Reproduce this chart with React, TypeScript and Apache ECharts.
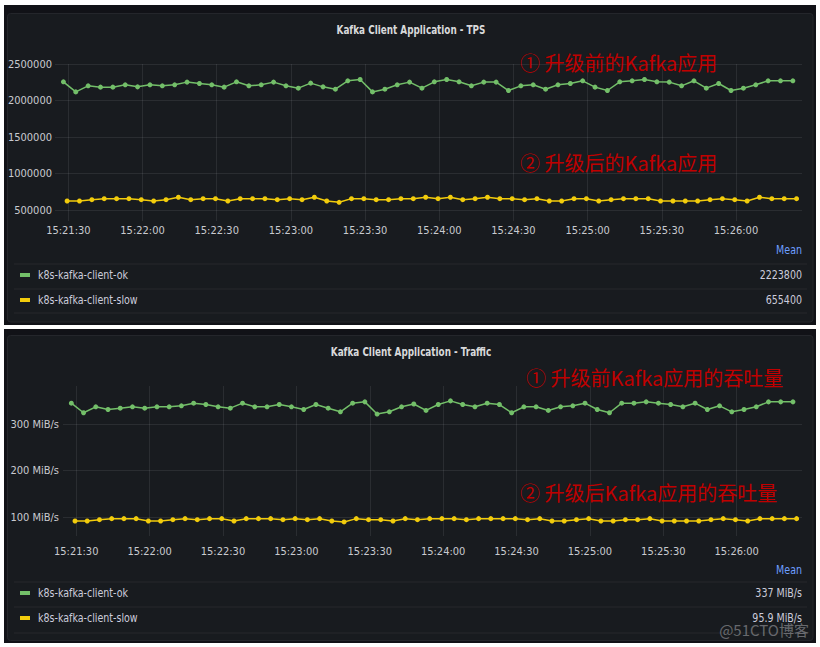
import React, { useEffect, useRef } from "react";
import * as echarts from "echarts";

// ---- data ----
const panelTitles = ["Kafka Client Application - TPS", "Kafka Client Application - Traffic"];
const seriesNames = ["k8s-kafka-client-ok", "k8s-kafka-client-slow"];
const tpsMeans = ["2223800", "655400"];
const trafficMeans = ["337 MiB/s", "95.9 MiB/s"];
const tpsNotes = ["① 升级前的Kafka应用", "② 升级后的Kafka应用"];
const trafficNotes = ["① 升级前Kafka应用的吞吐量", "② 升级后Kafka应用的吞吐量"];
const watermark = "@51CTO博客";

// sample times: seconds of day; ok series starts 15:21:28, slow series 15:21:29.5, every 5 s
const okStartSec = 55288;
const slowStartSec = 55289.5;
const stepSec = 5;
const xMinSec = 55284.6;
const xMaxSec = 55586.7;

const okTps = [
  2256000, 2118000, 2201000, 2183000, 2183000, 2215000, 2187000, 2215000, 2201000, 2215000,
  2252000, 2233000, 2215000, 2183000, 2256000, 2201000, 2215000, 2252000, 2201000, 2169000,
  2238000, 2187000, 2155000, 2270000, 2288000, 2118000, 2155000, 2215000, 2252000, 2169000,
  2256000, 2288000, 2256000, 2201000, 2252000, 2252000, 2137000, 2201000, 2215000, 2155000,
  2215000, 2233000, 2270000, 2183000, 2137000, 2256000, 2270000, 2288000, 2256000, 2252000,
  2201000, 2270000, 2169000, 2233000, 2137000, 2169000, 2215000, 2270000, 2270000, 2270000,
];
const slowTps = [
  624000, 624000, 642000, 656000, 656000, 656000, 642000, 624000, 642000, 675000,
  642000, 656000, 656000, 624000, 656000, 656000, 656000, 642000, 656000, 642000,
  675000, 624000, 606000, 656000, 656000, 642000, 642000, 656000, 656000, 675000,
  656000, 675000, 642000, 656000, 675000, 656000, 656000, 642000, 656000, 624000,
  624000, 656000, 656000, 624000, 642000, 656000, 656000, 656000, 624000, 624000,
  624000, 624000, 642000, 656000, 642000, 624000, 675000, 656000, 656000, 656000,
];
const okTraffic = [
  344.7, 324.1, 336.9, 331.2, 334.0, 336.9, 334.0, 336.9, 336.9, 339.0,
  344.7, 341.8, 336.9, 334.0, 344.7, 336.9, 336.9, 341.8, 336.9, 331.2,
  341.8, 334.0, 326.2, 344.7, 347.5, 321.3, 326.2, 336.9, 343.0, 329.1,
  341.8, 349.6, 341.8, 336.9, 344.7, 341.8, 324.1, 336.9, 336.9, 329.1,
  336.9, 339.0, 344.7, 331.2, 324.1, 344.7, 344.7, 347.5, 344.7, 341.8,
  336.9, 344.7, 331.2, 339.0, 326.2, 331.2, 336.9, 347.5, 347.5, 347.5,
];
const slowTraffic = [
  92.2, 92.2, 95.0, 97.2, 97.2, 97.2, 92.2, 92.2, 95.0, 97.2,
  95.0, 97.2, 97.2, 92.2, 97.2, 97.2, 97.2, 95.0, 97.2, 95.0,
  97.2, 92.2, 90.1, 97.2, 95.0, 95.0, 92.2, 97.2, 95.0, 97.2,
  97.2, 97.2, 95.0, 97.2, 97.2, 97.2, 97.2, 95.0, 97.2, 92.2,
  92.2, 95.0, 97.2, 92.2, 92.2, 95.0, 95.0, 97.2, 92.2, 92.2,
  92.2, 92.2, 95.0, 97.2, 95.0, 92.2, 97.2, 97.2, 97.2, 97.2,
];

const GREEN = "#73bf69";
const YELLOW = "#f2cc0c";
const UI_FONT = "'Liberation Sans Narrow', 'DejaVu Sans Condensed', Roboto, sans-serif";
const CJK_FONT = "'Noto Sans CJK SC', sans-serif";
const AXIS_TEXT = "#c8cacf";
const GRID_LINE = "rgba(204,204,220,0.10)";
const SEP_LINE = "rgba(204,204,220,0.08)";
const SQUEEZE = 0.88;

function toPairs(start: number, values: number[]) {
  return values.map((v, i) => [start + i * stepSec, v]);
}

function fmtTime(v: number) {
  const s = Math.round(v);
  if (Math.abs(v - s) > 0.01 || s % 30 !== 0) return "";
  const h = Math.floor(s / 3600);
  const m = Math.floor((s % 3600) / 60);
  const sec = s % 60;
  const p = (n: number) => (n < 10 ? "0" + n : "" + n);
  return `${p(h)}:${p(m)}:${p(sec)}`;
}

function txt(text: string, x: number, y: number, opts: any = {}) {
  const align = opts.align || "left";
  return {
    type: "text",
    x,
    y,
    scaleX: opts.scaleX ?? 1,
    z: opts.z ?? 50,
    silent: true,
    style: {
      text,
      fill: opts.fill || "#ccccdc",
      font: opts.font || `12px ${UI_FONT}`,
      align,
      verticalAlign: "middle",
      textAlign: align,
      textVerticalAlign: "middle",
    },
  };
}

function sepLine(y: number) {
  return {
    type: "line",
    z: -5,
    silent: true,
    shape: { x1: 14, y1: y, x2: 807, y2: y },
    style: { stroke: SEP_LINE, lineWidth: 1 },
  };
}

function legendBlock(meanY: number, rowYs: number[], seps: number[], values: string[]) {
  const els: any[] = [];
  els.push(txt("Mean", 802, meanY, { align: "right", fill: "#6e9fff", font: `12px ${UI_FONT}`, scaleX: SQUEEZE }));
  seps.forEach((y) => els.push(sepLine(y)));
  const colors = [GREEN, YELLOW];
  rowYs.forEach((y, i) => {
    els.push({
      type: "rect",
      z: 40,
      silent: true,
      shape: { x: 20, y: y - 2, width: 10, height: 4 },
      style: { fill: colors[i] },
    });
    els.push(txt(seriesNames[i], 38, y, { font: `12px ${UI_FONT}`, scaleX: SQUEEZE }));
    els.push(txt(values[i], 802, y, { align: "right", font: `12px ${UI_FONT}`, scaleX: SQUEEZE }));
  });
  return els;
}

export default function App() {
  const ref = useRef<HTMLDivElement>(null);

  useEffect(() => {
    if (!ref.current) return;
    const chart = echarts.init(ref.current, null, { renderer: "svg" });

    const xAxisBase = (gridIndex: number, margin: number) => ({
      type: "value",
      gridIndex,
      min: xMinSec,
      max: xMaxSec,
      minInterval: 30,
      maxInterval: 30,
      axisLine: { show: false },
      axisTick: { show: false },
      axisLabel: {
        color: AXIS_TEXT,
        fontFamily: UI_FONT,
        fontSize: 11,
        margin,
        showMinLabel: false,
        showMaxLabel: false,
        formatter: (v: number) => fmtTime(v),
      },
      splitLine: { show: true, showMinLine: false, showMaxLine: false, lineStyle: { color: GRID_LINE, width: 1 } },
    });

    const lineSeries = (name: string, color: string, xi: number, data: number[][]) => ({
      name,
      type: "line",
      xAxisIndex: xi,
      yAxisIndex: xi,
      data,
      symbol: "circle",
      symbolSize: 5,
      showSymbol: true,
      lineStyle: { color, width: 1.5 },
      itemStyle: { color },
      emphasis: { disabled: true },
      z: 5,
    });

    const graphics: any[] = [
      // top panel
      { type: "rect", z: -10, silent: true, shape: { x: 4, y: 5, width: 812, height: 320 }, style: { fill: "#111217" } },
      {
        type: "rect", z: -9, silent: true,
        shape: { x: 7.5, y: 13.5, width: 805.5, height: 308.5, r: 3 },
        style: { fill: "#181b1f", stroke: "#24262b", lineWidth: 1 },
      },
      // bottom panel
      { type: "rect", z: -10, silent: true, shape: { x: 4, y: 329, width: 812, height: 314 }, style: { fill: "#111217" } },
      {
        type: "rect", z: -9, silent: true,
        shape: { x: 7.5, y: 335.5, width: 805.5, height: 305, r: 3 },
        style: { fill: "#181b1f", stroke: "#24262b", lineWidth: 1 },
      },
      txt(panelTitles[0], 411, 30, { align: "center", fill: "#d8d9da", font: `bold 12px ${UI_FONT}`, scaleX: 0.82 }),
      txt(panelTitles[1], 411, 352, { align: "center", fill: "#d8d9da", font: `bold 12px ${UI_FONT}`, scaleX: 0.82 }),
      ...legendBlock(250, [275, 300], [264, 289, 313], tpsMeans),
      ...legendBlock(570, [593, 618], [582, 607, 633], trafficMeans),
      txt(tpsNotes[0], 520, 62, { fill: "#c00000", font: `20px ${CJK_FONT}`, z: 100 }),
      txt(tpsNotes[1], 520, 162, { fill: "#c00000", font: `20px ${CJK_FONT}`, z: 100 }),
      txt(trafficNotes[0], 526, 377, { fill: "#c00000", font: `20px ${CJK_FONT}`, z: 100 }),
      txt(trafficNotes[1], 520, 492, { fill: "#c00000", font: `20px ${CJK_FONT}`, z: 100 }),
      txt(watermark, 809, 629, { align: "right", fill: "rgba(235,235,240,0.38)", font: `15px ${CJK_FONT}`, z: 100 }),
    ];

    chart.setOption({
      animation: false,
      backgroundColor: "#ffffff",
      grid: [
        { left: 55, top: 64, width: 747, height: 157, containLabel: false },
        { left: 63, top: 386, width: 739, height: 150, containLabel: false },
      ],
      xAxis: [xAxisBase(0, 4), xAxisBase(1, 10)],
      yAxis: [
        {
          type: "value",
          gridIndex: 0,
          min: 350000,
          max: 2500000,
          minInterval: 500000,
          maxInterval: 500000,
          axisLine: { show: false },
          axisTick: { show: false },
          axisLabel: {
            color: AXIS_TEXT,
            fontFamily: UI_FONT,
            fontSize: 11,
            margin: 3,
            formatter: (v: number) => (Math.abs(v % 500000) < 1e-6 ? String(v) : ""),
          },
          splitLine: { show: true, showMinLine: false, lineStyle: { color: GRID_LINE, width: 1 } },
        },
        {
          type: "value",
          gridIndex: 1,
          min: 60,
          max: 381.5,
          minInterval: 100,
          maxInterval: 100,
          axisLine: { show: false },
          axisTick: { show: false },
          axisLabel: {
            color: AXIS_TEXT,
            fontFamily: UI_FONT,
            fontSize: 11,
            margin: 4,
            formatter: (v: number) => (Math.abs(v % 100) < 1e-6 ? `${v} MiB/s` : ""),
          },
          splitLine: { show: true, showMinLine: false, showMaxLine: false, lineStyle: { color: GRID_LINE, width: 1 } },
        },
      ],
      series: [
        lineSeries(seriesNames[0], GREEN, 0, toPairs(okStartSec, okTps)),
        lineSeries(seriesNames[1], YELLOW, 0, toPairs(slowStartSec, slowTps)),
        lineSeries(seriesNames[0], GREEN, 1, toPairs(okStartSec, okTraffic)),
        lineSeries(seriesNames[1], YELLOW, 1, toPairs(slowStartSec, slowTraffic)),
      ],
      graphic: graphics,
    });

    return () => chart.dispose();
  }, []);

  return (
    <div
      ref={ref}
      style={{ position: "absolute", left: 0, top: 0, width: 820, height: 647 }}
    />
  );
}
